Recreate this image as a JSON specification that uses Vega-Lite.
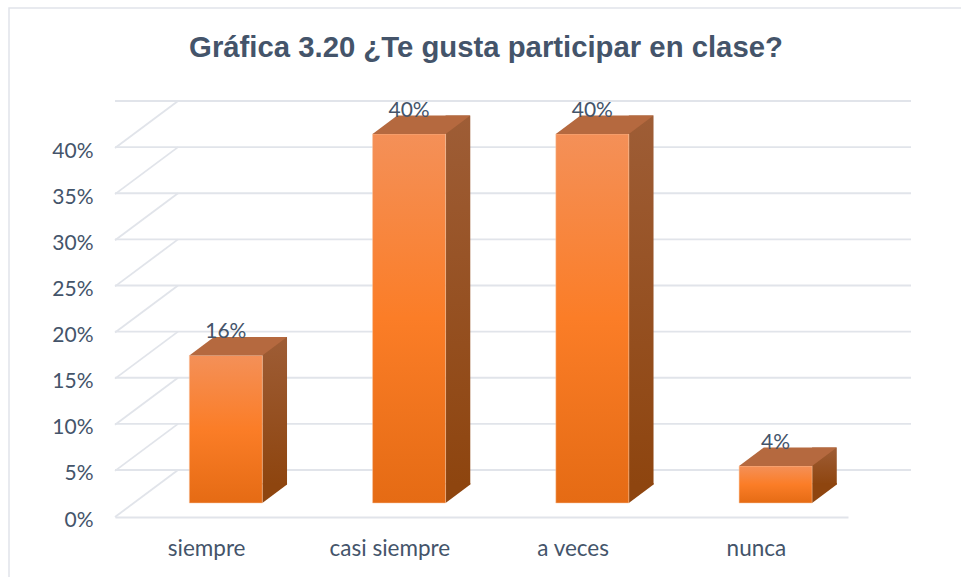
{
  "$schema": "https://vega.github.io/schema/vega-lite/v6.json",
  "width": 733,
  "height": 369,
  "autosize": {"type": "none"},
  "padding": {"left": 115, "top": 148, "right": 113, "bottom": 60},
  "background": "white",
  "title": {"text": "Gráfica 3.20 ¿Te gusta participar en clase?", "font": "Liberation Sans", "fontSize": 29.3, "fontWeight": "bold", "color": "#44546a", "anchor": "middle", "offset": -58, "dx": 4.5},
  "config": {"view": {"stroke": null}},
  "datasets": {
    "barras": [
      {"categoria": "siempre", "valor": 0.16},
      {"categoria": "casi siempre", "valor": 0.40},
      {"categoria": "a veces", "valor": 0.40},
      {"categoria": "nunca", "valor": 0.04}
    ],
    "marcas": [
      {"marca": 0}, {"marca": 0.05}, {"marca": 0.10}, {"marca": 0.15}, {"marca": 0.20},
      {"marca": 0.25}, {"marca": 0.30}, {"marca": 0.35}, {"marca": 0.40}
    ],
    "marco": [{"marca": 0}]
  },
  "resolve": {"scale": {"x": "shared", "y": "shared"}},
  "layer": [
    {
      "data": {"name": "marco"},
      "mark": {"type": "point", "shape": "M-106,60L-106,-509L846,-509", "size": 4, "filled": false, "stroke": "#e1e4ea", "strokeWidth": 1.5, "opacity": 1},
      "encoding": {"x": {"value": 0}, "y": {"field": "marca", "type": "quantitative", "scale": {"domain": [0, 0.4], "nice": false},
        "axis": {"title": null, "values": [0, 0.05, 0.10, 0.15, 0.20, 0.25, 0.30, 0.35, 0.40], "format": ".0%", "domain": false, "ticks": false, "grid": false, "labelFont": "Lato", "labelFontSize": 21, "labelColor": "#44546a", "labelPadding": 22, "labelOffset": 3}}}
    },
    {
      "data": {"name": "marcas"},
      "mark": {"type": "point", "shape": "M0,0L63,-47", "size": 4, "filled": false, "stroke": "#e1e4ea", "strokeWidth": 1.8, "opacity": 1},
      "encoding": {"x": {"value": 0}, "y": {"field": "marca", "type": "quantitative"}}
    },
    {
      "data": {"name": "marcas"},
      "mark": {"type": "rule", "stroke": "#e1e4ea", "strokeWidth": 1.8, "xOffset": 63, "yOffset": -47},
      "encoding": {"y": {"field": "marca", "type": "quantitative"}}
    },
    {
      "data": {"name": "barras"},
      "mark": {"type": "bar", "size": 24.7, "xOffset": 68.05, "x2Offset": 68.05, "yOffset": -32.5, "y2Offset": -32.5,
        "fill": {"x1": 0, "y1": 0, "x2": 0, "y2": 1, "gradient": "linear", "stops": [{"offset": 0, "color": "#9e5d36"}, {"offset": 1, "color": "#8e450f"}]}},
      "encoding": {
        "x": {"field": "categoria", "type": "nominal", "sort": null,
          "scale": {"paddingInner": 0, "paddingOuter": 0},
          "axis": {"title": null, "labelAngle": 0, "ticks": false, "domainColor": "#e1e4ea", "domainWidth": 1.8, "labelFont": "Lato", "labelFontSize": 22.5, "labelColor": "#44546a", "labelPadding": 20, "grid": false}},
        "y": {"field": "valor", "type": "quantitative"},
        "y2": {"datum": 0}
      }
    },
    {
      "data": {"name": "barras"},
      "mark": {"type": "point", "shape": "M0,0L0,-20L24.7,-20L24.7,-18.5Z", "size": 4, "filled": true, "fill": "#8e450f", "strokeWidth": 0, "opacity": 1, "xOffset": 55.7, "yOffset": -14},
      "encoding": {
        "x": {"field": "categoria", "type": "nominal", "sort": null},
        "y": {"datum": 0, "type": "quantitative"}
      }
    },
    {
      "data": {"name": "barras"},
      "mark": {"type": "bar", "size": 73, "xOffset": 19.2, "x2Offset": 19.2, "yOffset": -14, "y2Offset": -14, "stroke": "#f8c6a2", "strokeWidth": 0.5,
        "fill": {"x1": 0, "y1": 0, "x2": 0, "y2": 1, "gradient": "linear", "stops": [{"offset": 0, "color": "#f49058"}, {"offset": 0.5, "color": "#fb7d27"}, {"offset": 1, "color": "#e56b14"}]}},
      "encoding": {
        "x": {"field": "categoria", "type": "nominal", "sort": null},
        "y": {"field": "valor", "type": "quantitative"},
        "y2": {"datum": 0}
      }
    },
    {
      "data": {"name": "barras"},
      "mark": {"type": "point", "shape": "M-36.5,0L36.5,0L61.2,-18.5L-11.8,-18.5Z", "size": 4, "filled": true, "fill": "#b5693f", "strokeWidth": 0, "opacity": 1, "xOffset": 19.2, "yOffset": -14},
      "encoding": {
        "x": {"field": "categoria", "type": "nominal", "sort": null},
        "y": {"field": "valor", "type": "quantitative"}
      }
    },
    {
      "data": {"name": "barras"},
      "mark": {"type": "text", "font": "Lato", "fontSize": 21, "color": "#44546a", "align": "center", "baseline": "alphabetic", "dx": 19.2, "dy": -31},
      "encoding": {
        "x": {"field": "categoria", "type": "nominal", "sort": null},
        "y": {"field": "valor", "type": "quantitative"},
        "text": {"field": "valor", "type": "quantitative", "format": ".0%"}
      }
    }
  ]
}
